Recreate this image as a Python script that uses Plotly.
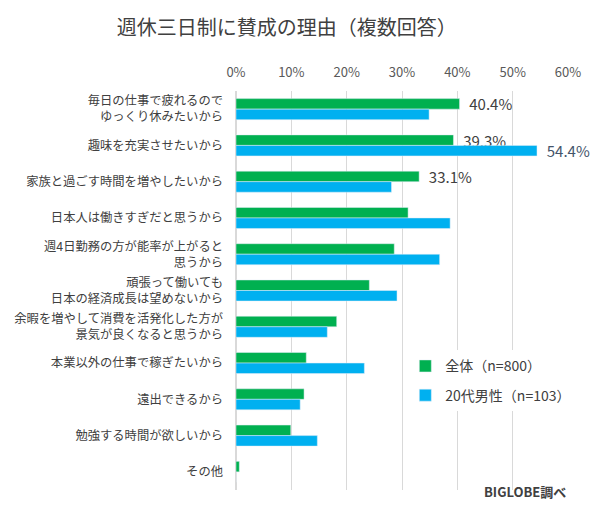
import plotly.graph_objects as go

categories = [
    "毎日の仕事で疲れるので<br>ゆっくり休みたいから",
    "趣味を充実させたいから",
    "家族と過ごす時間を増やしたいから",
    "日本人は働きすぎだと思うから",
    "週4日勤務の方が能率が上がると<br>思うから",
    "頑張って働いても<br>日本の経済成長は望めないから",
    "余暇を増やして消費を活発化した方が<br>景気が良くなると思うから",
    "本業以外の仕事で稼ぎたいから",
    "遠出できるから",
    "勉強する時間が欲しいから",
    "その他",
]
all_values = [40.4, 39.3, 33.1, 31.1, 28.6, 24.1, 18.2, 12.7, 12.3, 9.9, 0.6]
male20_values = [34.9, 54.4, 28.1, 38.7, 36.8, 29.1, 16.5, 23.2, 11.6, 14.7, 0.0]
all_labels = ["40.4%", "39.3%", "33.1%", "", "", "", "", "", "", "", ""]
male20_labels = ["", "54.4%", "", "", "", "", "", "", "", "", ""]
series_names = ["全体（n=800）", "20代男性（n=103）"]
tick_vals = [0, 10, 20, 30, 40, 50, 60]
tick_text = ["0%", "10%", "20%", "30%", "40%", "50%", "60%"]

FONT = "Noto Sans CJK JP"
GREEN = "#00B050"
BLUE = "#00B0F0"
TXT = "#404040"

fig = go.Figure()
fig.add_trace(go.Bar(
    y=categories, x=all_values, orientation="h", name=series_names[0],
    marker_color=GREEN, text=all_labels, texttemplate="  %{text}",
    textposition="outside", constraintext="none",
    textfont=dict(color=TXT, size=15, family=FONT), cliponaxis=False,
    legendgroup="a",
))
fig.add_trace(go.Bar(
    y=categories, x=male20_values, orientation="h", name=series_names[1],
    marker_color=BLUE, text=male20_labels, texttemplate="  %{text}",
    textposition="outside", constraintext="none",
    textfont=dict(color="#44546A", size=15, family=FONT), cliponaxis=False,
    legendgroup="b",
))

fig.update_layout(
    width=590, height=509,
    margin=dict(l=236, r=22, t=91, b=19),
    paper_bgcolor="white", plot_bgcolor="white",
    font=dict(family=FONT, color=TXT),
    barmode="group", bargap=0.42, bargroupgap=0,
    title=dict(text="週休三日制に賛成の理由（複数回答）", x=0.486, xanchor="center",
               y=0.945, yanchor="middle",
               font=dict(size=20, color=TXT, family=FONT)),
    xaxis=dict(side="top", range=[0, 60], tickvals=tick_vals, ticktext=tick_text,
               showgrid=True, gridcolor="#D9D9D9", gridwidth=1, zeroline=True,
               zerolinecolor="#D9D9D9", showline=False, ticks="",
               automargin=False, ticklabelstandoff=10,
               tickfont=dict(size=13, color="#595959", family=FONT)),
    yaxis=dict(autorange="reversed", showgrid=False, ticks="", showline=False,
               automargin=False, ticklabelstandoff=12,
               tickfont=dict(size=12.3, color=TXT, family=FONT)),
    legend=dict(x=0.51, y=0.35, xanchor="left", yanchor="top",
                bgcolor="white", traceorder="grouped", tracegroupgap=8,
                itemwidth=30,
                font=dict(size=14, color=TXT, family=FONT)),
    showlegend=True,
)
fig.add_annotation(text="<b>BIGLOBE調べ</b>", xref="paper", yref="paper",
                   x=1.0, y=-0.005, xanchor="right", yanchor="middle",
                   showarrow=False, font=dict(size=13, color=TXT, family=FONT))

fig.write_html("out.html", config={"displayModeBar": False},
               post_script="document.body.style.margin='0';document.body.style.overflow='hidden';")
